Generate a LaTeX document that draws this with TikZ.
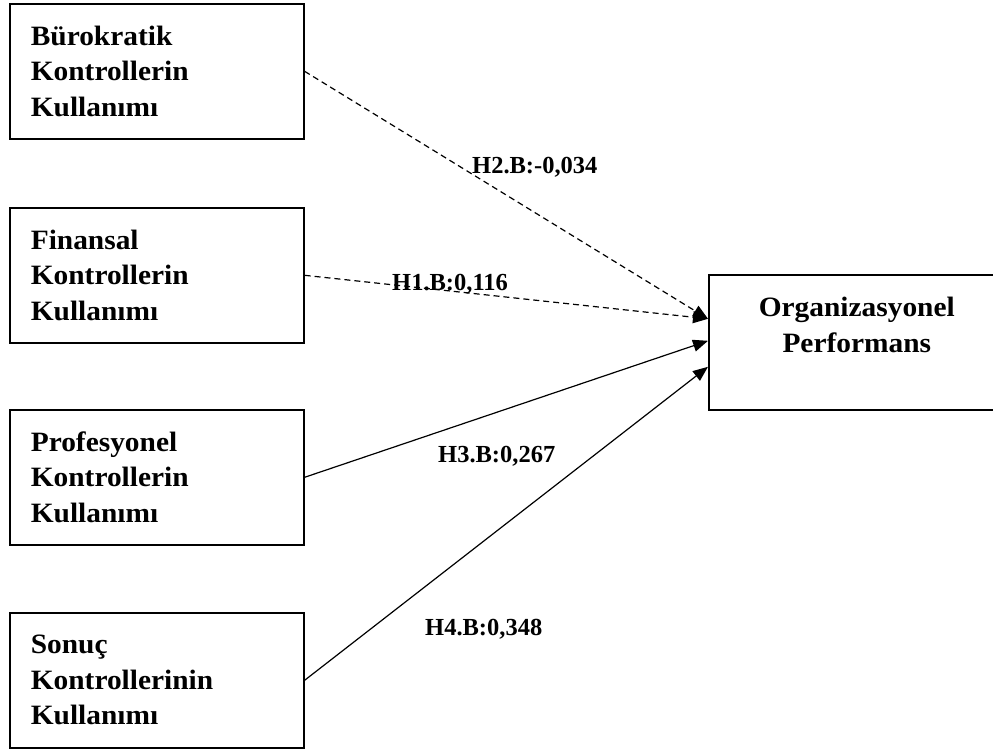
\documentclass[tikz,border=0pt]{standalone}
\usepackage{fontspec}
\setmainfont{Liberation Serif}[FakeStretch=1.05]
\newfontfamily\etiketfont{Liberation Serif}
\usetikzlibrary{arrows.meta}

\begin{document}
\begin{tikzpicture}[x=1pt,y=-1pt,
    kutu/.style={draw=black, line width=1.6pt, rectangle, anchor=north west,
        minimum height=135pt, inner xsep=21pt, inner ysep=0pt,
        font=\fontsize{28}{35.5}\selectfont\bfseries},
    etiket/.style={anchor=base west, inner sep=0pt,
        font=\etiketfont\fontsize{24.5}{29}\selectfont\bfseries},
    ok/.style={line width=1.2pt, -{Triangle[length=15pt,width=12pt]}},
    kesik/.style={dash pattern=on 6pt off 4pt}]
    \pgfmathsetmacro{\kutuW}{252} % sol kutularin metin genisligi
    \pgfmathsetmacro{\kutuX}{9}
    
    %% sayfa 993 x 750, sagdaki kutu kenardan tasar
    \useasboundingbox (0,0) rectangle (993,750);
    \clip (0,0) rectangle (993,750);
    
    % sol taraftaki dort kutu
    \foreach \n/\y/\t in
    {Bur/3/{Bürokratik\\Kontrollerin\\Kullanımı},
        Fin/207/{Finansal\\Kontrollerin\\Kullanımı},
        Pro/409/{Profesyonel\\Kontrollerin\\Kullanımı},
        Son/612/{Sonuç\\Kontrollerinin\\Kullanımı}
    }
    {
        \node[kutu, text width=\kutuW pt, align=left] (\n) at (\kutuX,\y) {\t};
    };
    
    % sagdaki kutu
    \node[kutu, text width=254pt, align=center] (Perf) at (708,274)
        {Organizasyonel\\Performans\\\mbox{}};
    
    \coordinate (Hedef1) at ([yshift=23.5pt]Perf.west);
    \coordinate (Hedef2) at ([yshift=1.5pt]Perf.west);
    \coordinate (Hedef3) at ([yshift=-24.5pt]Perf.west);
    
    \draw[ok, kesik] (Bur.east) -- (Hedef1);
    \draw[ok, kesik] (Fin.east) -- (Hedef1);
    \draw[ok] (Pro.east) -- (Hedef2);
    \draw[ok] (Son.east) -- (Hedef3);
    
    \foreach \v/\x/\y/\t in
    {H2/472/173/{H2.B:-0,034},
        H1/392/290/{H1.B:0,116},
        H3/438/462/{H3.B:0,267},
        H4/425/635/{H4.B:0,348}
    }
    {
        \node[etiket] (\v) at (\x,\y) {\t};
    };
\end{tikzpicture}
\end{document}
